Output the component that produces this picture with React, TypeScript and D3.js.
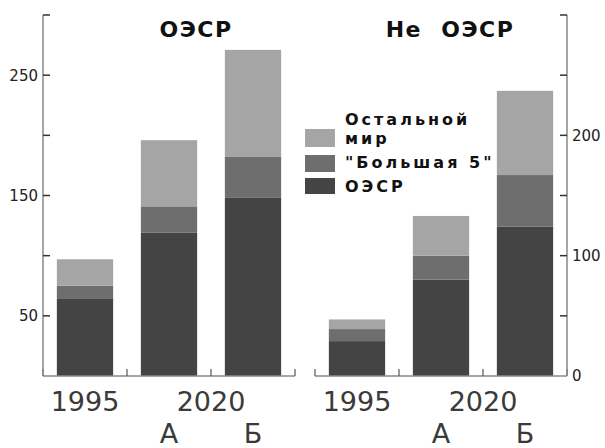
import * as d3 from "d3";

const categories = ["1995", "2020 А", "2020 Б"];
const yearLabels = ["1995", "2020"];
const scenarioLabels = ["А", "Б"];
const seriesKeys = ["oecd", "big5", "rest"];
const legendLabels = [["Остальной", "мир"], ["\"Большая 5\""], ["ОЭСР"]];

// панель ОЭСР
const oecdOecd = [64, 119, 148];
const oecdBig5 = [11, 22, 34];
const oecdRest = [22, 55, 89];
// панель Не ОЭСР
const nonOecd = [29, 80, 124];
const nonBig5 = [10, 20, 43];
const nonRest = [8, 33, 70];

const leftTicks = [50, 100, 150, 200, 250, 300];
const leftLabels = [50, 150, 250];
const rightTicks = [50, 100, 150, 200, 250, 300];
const rightLabels = [0, 100, 200];

const colors: Record<string, string> = { oecd: "#444444", big5: "#6e6e6e", rest: "#a5a5a5" };

const W = 605, H = 448;
const base = 376, top = 15;
const y = d3.scaleLinear().domain([0, 300]).range([base, top]);

function rows(a: number[], b: number[], c: number[]) {
  return categories.map((cat, i) => ({ cat, oecd: a[i], big5: b[i], rest: c[i] }));
}

const stack = d3.stack<any>().keys(seriesKeys);

function Panel({ x0, x1, data, title, titleX, side }: any) {
  const x = d3.scaleBand().domain(categories).range([x0, x1]).paddingInner(0.33).paddingOuter(0.165);
  const layers = stack(data);
  const step = x.step();
  const bounds = d3.range(categories.length + 1).map((i) => x0 + i * step);
  const c = (k: string) => (x(k) as number) + x.bandwidth() / 2;
  const ax = side === "left" ? x0 : x1;
  const tdir = side === "left" ? 1 : -1;
  return (
    <g>
      {layers.map((layer) => (
        <g key={layer.key} fill={colors[layer.key]}>
          {layer.map((d: any, i: number) => (
            <rect key={i} x={x(d.data.cat)} width={x.bandwidth()} y={y(d[1])} height={y(d[0]) - y(d[1])} />
          ))}
        </g>
      ))}
      {/* bottom axis */}
      <line x1={x0} x2={x1} y1={base} y2={base} stroke="#888" strokeWidth={1.5} />
      {bounds.map((b, i) => (
        <line key={i} x1={b} x2={b} y1={base} y2={base - 7} stroke="#555" strokeWidth={1.2} />
      ))}
      {/* vertical axis */}
      <line x1={ax} x2={ax} y1={top} y2={base} stroke="#888" strokeWidth={1.5} />
      {(side === "left" ? leftTicks : rightTicks).map((t) => (
        <line key={t} x1={ax} x2={ax + tdir * 7} y1={y(t)} y2={y(t)} stroke="#333" strokeWidth={1.5} />
      ))}
      {(side === "left" ? leftLabels : rightLabels).map((t) => (
        <text key={t} x={side === "left" ? ax - 5 : ax + 5} y={y(t)} dy="0.36em"
          textAnchor={side === "left" ? "end" : "start"} fontFamily="DejaVu Sans" fontSize={15} fill="#222">
          {t}
        </text>
      ))}
      <text x={titleX} y={37} textAnchor="middle" fontFamily="DejaVu Sans" fontWeight="bold"
        fontSize={22} letterSpacing={1.5} wordSpacing={10} fill="#111">
        {title}
      </text>
      <g fontFamily="DejaVu Sans" fontSize={27} fill="#3a3a3a" textAnchor="middle">
        <text x={c(categories[0])} y={411}>{yearLabels[0]}</text>
        <text x={(c(categories[1]) + c(categories[2])) / 2} y={411}>{yearLabels[1]}</text>
        <text x={c(categories[1])} y={443}>{scenarioLabels[0]}</text>
        <text x={c(categories[2])} y={443}>{scenarioLabels[1]}</text>
      </g>
    </g>
  );
}

function Legend() {
  const swatches = [
    { key: "rest", y: 129, h: 18 },
    { key: "big5", y: 155, h: 17 },
    { key: "oecd", y: 178, h: 16 },
  ];
  const textY = [[125, 144], [168], [192]];
  return (
    <g fontFamily="DejaVu Sans" fontWeight="bold" fontSize={16} letterSpacing={3} fill="#111">
      {swatches.map((s, i) => (
        <g key={s.key}>
          <rect x={305} y={s.y} width={30} height={s.h} fill={colors[s.key]} />
          {legendLabels[i].map((l, j) => (
            <text key={j} x={345} y={textY[i][j]}>{l}</text>
          ))}
        </g>
      ))}
    </g>
  );
}

export default function App() {
  return (
    <svg width={W} height={H} style={{ position: "absolute", left: 0, top: 0, background: "#fff" }}>
      <Panel x0={43} x1={295} data={rows(oecdOecd, oecdBig5, oecdRest)} title="ОЭСР" titleX={196} side="left" />
      <Panel x0={315} x1={567} data={rows(nonOecd, nonBig5, nonRest)} title="Не ОЭСР" titleX={450} side="right" />
      <Legend />
    </svg>
  );
}
